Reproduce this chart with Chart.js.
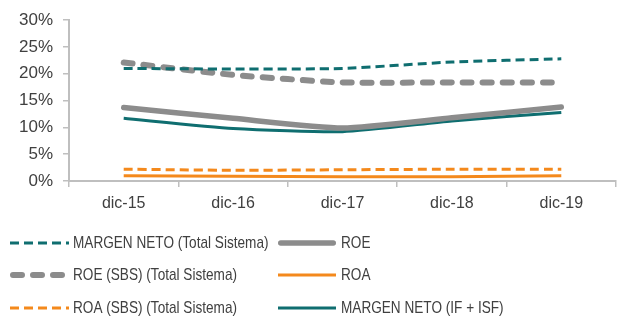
<!DOCTYPE html>
<html>
<head>
<meta charset="utf-8">
<style>
  html, body { margin: 0; padding: 0; background: #fff; }
  #wrap { width: 624px; height: 326px; }
</style>
<script src="https://cdn.jsdelivr.net/npm/chart.js@4/dist/chart.umd.min.js"></script>
</head>
<body>
<div id="wrap"><canvas id="c" width="624" height="326"></canvas></div>
<script>
// Periods on the x axis
const categories = ['dic-15', 'dic-16', 'dic-17', 'dic-18', 'dic-19'];

// Ratios in percent
const margenNetoTotal = [21.0, 20.9, 21.0, 22.2, 22.8];
const roe = [13.7, 11.7, 9.9, 11.8, 13.8];
const roeSbsTotal = [22.1, 19.8, 18.4, 18.4, 18.4];
const roa = [1.0, 0.9, 0.8, 0.8, 1.0];
const roaSbsTotal = [2.2, 2.0, 2.1, 2.2, 2.2];
const margenNetoIf = [11.7, 9.8, 9.2, 11.2, 12.8];

// Y axis tick values
const yTicks = [0, 5, 10, 15, 20, 25, 30];

const TEAL = '#0f6e70';
const GREY = '#8c8c8c';
const ORANGE = '#f4891c';
const AXIS = '#bfbfbf';
const TEXT = '#404040';
const FONT = '"Liberation Sans", Arial, sans-serif';

const series = [
  { label: 'MARGEN NETO (Total Sistema)', data: margenNetoTotal, color: TEAL, width: 3, dash: [9, 5], cap: 'butt' },
  { label: 'ROE', data: roe, color: GREY, width: 5.5, dash: [], cap: 'round' },
  { label: 'ROE (SBS) (Total Sistema)', data: roeSbsTotal, color: GREY, width: 6, dash: [9, 11], cap: 'round' },
  { label: 'ROA', data: roa, color: ORANGE, width: 3, dash: [], cap: 'butt' },
  { label: 'ROA (SBS) (Total Sistema)', data: roaSbsTotal, color: ORANGE, width: 3, dash: [9, 5], cap: 'butt' },
  { label: 'MARGEN NETO (IF + ISF)', data: margenNetoIf, color: TEAL, width: 3, dash: [], cap: 'butt' }
];

// Two-column legend under the plot, drawn from the dataset styles
const gridLegend = {
  id: 'gridLegend',
  afterDraw(chart) {
    const ctx = chart.ctx;
    const rowsY = [243, 275, 308];
    const cols = [{ x0: 10, x1: 69, tx: 73 }, { x0: 278, x1: 336, tx: 341 }];
    const squeeze = 0.8; // condensed legend lettering
    chart.data.datasets.forEach((ds, i) => {
      const col = cols[i % 2];
      const y = rowsY[Math.floor(i / 2)];
      ctx.save();
      ctx.strokeStyle = ds.borderColor;
      ctx.lineWidth = ds.borderWidth;
      ctx.lineCap = ds.borderCapStyle;
      ctx.setLineDash(ds.borderDash);
      const inset = ds.borderCapStyle === 'round' ? ds.borderWidth / 2 : 0;
      ctx.beginPath();
      ctx.moveTo(col.x0 + inset, y);
      ctx.lineTo(col.x1 - inset, y);
      ctx.stroke();
      ctx.setLineDash([]);
      ctx.fillStyle = TEXT;
      ctx.font = '17px ' + FONT;
      ctx.textBaseline = 'middle';
      ctx.textAlign = 'left';
      ctx.translate(col.tx, y);
      ctx.scale(squeeze, 1);
      ctx.fillText(ds.label, 0, 0);
      ctx.restore();
    });
  }
};

new Chart(document.getElementById('c'), {
  type: 'line',
  data: {
    labels: categories,
    datasets: series.map(s => ({
      label: s.label,
      data: s.data,
      borderColor: s.color,
      backgroundColor: s.color,
      borderWidth: s.width,
      borderDash: s.dash,
      borderCapStyle: s.cap,
      pointRadius: 0,
      pointHoverRadius: 0,
      tension: 0.2,
      fill: false
    }))
  },
  options: {
    responsive: false,
    animation: false,
    devicePixelRatio: 1,
    layout: { padding: { top: 10, right: 8, left: 0, bottom: 0 } },
    plugins: { legend: { display: false }, tooltip: { enabled: false } },
    scales: {
      x: {
        offset: true,
        grid: { display: true, offset: true, drawOnChartArea: false, drawTicks: true, tickLength: 6, color: AXIS, lineWidth: 1.5 },
        border: { display: true, color: AXIS, width: 2 },
        ticks: { color: TEXT, font: { family: FONT, size: 16 }, padding: 7, maxRotation: 0 },
        afterFit(s) { s.height = 145; }
      },
      y: {
        min: 0,
        max: 30,
        afterBuildTicks(s) { s.ticks = yTicks.map(v => ({ value: v })); },
        grid: { display: true, drawOnChartArea: false, drawTicks: true, tickLength: 6, color: AXIS, lineWidth: 1.5 },
        border: { display: true, color: AXIS, width: 2 },
        ticks: { color: TEXT, font: { family: FONT, size: 17 }, padding: 10, callback: v => v + '%' },
        afterFit(s) { s.width = 69; }
      }
    }
  },
  plugins: [gridLegend]
});
</script>
</body>
</html>
